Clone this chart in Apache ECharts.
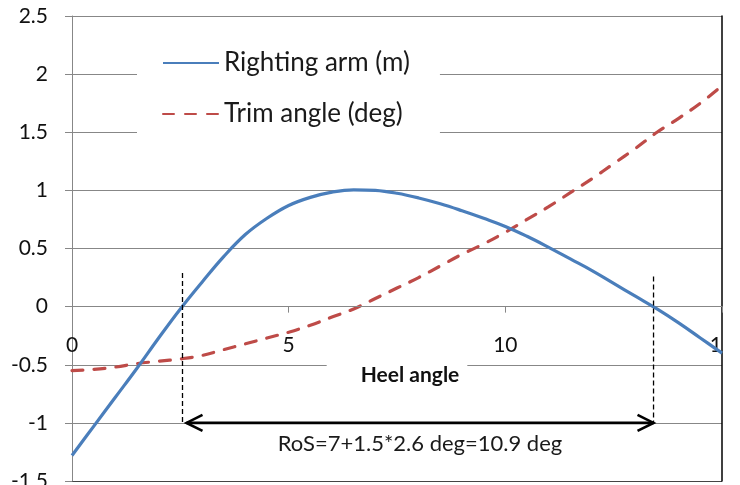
<!DOCTYPE html>
<html>
<head>
<meta charset="utf-8">
<title>Righting arm and trim angle</title>
<script src="https://cdn.jsdelivr.net/npm/echarts@6/dist/echarts.min.js"></script>
<style>
  html, body { margin: 0; padding: 0; background: #fff; }
  #main { width: 740px; height: 485px; }
</style>
</head>
<body>
<div id="main"></div>
<script>
// heel angle (deg) samples
var heel = [0, 0.5, 1, 1.5, 2, 2.5, 3, 3.5, 4, 4.5, 5, 5.5, 6, 6.5, 7, 7.5,
            8, 8.5, 9, 9.5, 10, 10.5, 11, 11.5, 12, 12.5, 13, 13.5, 14, 14.5, 15];
// righting arm (m)
var rightingArm = [-1.28, -1.03, -0.78, -0.53, -0.27, -0.02, 0.21, 0.43, 0.62, 0.76, 0.87,
                   0.94, 0.985, 1.005, 1.00, 0.975, 0.935, 0.885, 0.825, 0.76, 0.69, 0.605,
                   0.51, 0.41, 0.31, 0.20, 0.09, -0.02, -0.14, -0.27, -0.40];
// trim angle (deg)
var trimAngle = [-0.55, -0.54, -0.52, -0.49, -0.47, -0.45, -0.42, -0.37, -0.32, -0.27, -0.22,
                 -0.16, -0.09, -0.02, 0.07, 0.16, 0.25, 0.35, 0.45, 0.54, 0.64, 0.75,
                 0.86, 0.98, 1.10, 1.23, 1.36, 1.50, 1.62, 1.75, 1.90];

// range of stability annotation: [start heel, dash top, end heel, dash top, arrow level]
var rosMarks = [[2.55, 0.29, 13.42, 0.26, -1]];
var rosText = 'RoS=7+1.5*2.6 deg=10.9 deg';

var seriesNames = ['Righting arm (m)', 'Trim angle (deg)'];
var FONT = 'Lato';

var Y_MIN = -1.5, Y_MAX = 2.5;
var GRID = { left: 72, right: 18, top: 16, bottom: 4 };
var plotH = 485 - GRID.top - GRID.bottom;
// lift the x axis from the bottom edge up to y = 0
var xAxisOffset = -plotH * (0 - Y_MIN) / (Y_MAX - Y_MIN);

function pairs(xs, ys) {
  return xs.map(function (x, i) { return [x, ys[i]]; });
}

// gridlines: the bottom one doubles as the plot frame
var gridColors = ['#444', '#878787', '#878787', '#878787', '#878787',
                  '#878787', '#878787', '#878787', '#878787'];

var myChart = echarts.init(document.getElementById('main'));

var option = {
  animation: false,
  backgroundColor: '#fff',
  textStyle: { fontFamily: FONT },
  grid: { left: GRID.left, right: GRID.right, top: GRID.top, bottom: GRID.bottom, outerBoundsMode: 'none', containLabel: false },
  legend: {
    data: seriesNames,
    orient: 'vertical',
    left: 137,
    top: 30,
    padding: [20, 30, 20, 25],
    backgroundColor: '#fff',
    itemWidth: 56,
    itemHeight: 14,
    itemGap: 25,
    itemStyle: { opacity: 0 },
    textStyle: { fontFamily: FONT, fontSize: 26, color: '#1a1a1a', lineHeight: 24 }
  },
  xAxis: {
    type: 'value',
    min: 0,
    max: 15,
    interval: 5,
    z: 3,
    offset: xAxisOffset,
    name: 'Heel angle',
    nameLocation: 'middle',
    nameGap: 56,
    nameTextStyle: {
      fontFamily: FONT, fontSize: 21, fontWeight: 'bold', color: '#111',
      backgroundColor: '#fff', padding: [2, 8, 2, 34]
    },
    axisLine: { onZero: false, lineStyle: { color: '#878787', width: 1 } },
    axisTick: { show: true, length: 6, lineStyle: { color: '#878787' } },
    axisLabel: { margin: 28, fontSize: 21, color: '#111', fontFamily: FONT, showMinLabel: true, showMaxLabel: true },
    splitLine: { show: false }
  },
  yAxis: [{
    type: 'value',
    min: Y_MIN,
    max: Y_MAX,
    interval: 0.5,
    axisLine: { show: true, onZero: false, lineStyle: { color: '#878787' } },
    axisTick: { show: true, length: 7, lineStyle: { color: '#878787' } },
    axisLabel: { margin: 24, fontSize: 21, color: '#111', fontFamily: FONT },
    splitLine: { show: true, lineStyle: { color: gridColors, width: 1 } }
  }, {
    type: 'value',
    min: Y_MIN,
    max: Y_MAX,
    position: 'right',
    axisLine: { show: true, onZero: false, lineStyle: { color: '#000', width: 1.5 } },
    axisTick: { show: false },
    axisLabel: { show: false },
    splitLine: { show: false }
  }],
  series: [{
    name: seriesNames[1],
    type: 'line',
    data: pairs(heel, trimAngle),
    smooth: 0.4,
    symbol: 'none',
    lineStyle: { color: '#be4b48', width: 3.2, type: [11, 11], cap: 'round' },
    itemStyle: { color: '#be4b48' },
    z: 2
  }, {
    name: seriesNames[0],
    type: 'line',
    data: pairs(heel, rightingArm),
    smooth: 0.4,
    symbol: 'none',
    lineStyle: { color: '#4a7ebb', width: 3.2 },
    itemStyle: { color: '#4a7ebb' },
    z: 3
  }, {
    name: 'RoS',
    type: 'custom',
    data: rosMarks,
    z: 4,
    renderItem: function (params, api) {
      var lvl = api.value(4);
      var a = api.coord([api.value(0), lvl]);
      var aTop = api.coord([api.value(0), api.value(1)]);
      var b = api.coord([api.value(2), lvl]);
      var bTop = api.coord([api.value(2), api.value(3)]);
      var dash = { stroke: '#000', lineWidth: 1.3, lineDash: [5, 3] };
      var solid = { stroke: '#000', lineWidth: 2.6, fill: null };
      var ax = a[0] + 4, bx = b[0];
      var y = a[1];
      return {
        type: 'group',
        children: [
          { type: 'line', shape: { x1: a[0], y1: aTop[1], x2: a[0], y2: y }, style: dash },
          { type: 'line', shape: { x1: b[0], y1: bTop[1], x2: b[0], y2: y }, style: dash },
          { type: 'line', shape: { x1: ax, y1: y, x2: bx, y2: y }, style: solid },
          { type: 'polyline', shape: { points: [[ax + 16, y - 8], [ax, y], [ax + 16, y + 8]] }, style: solid },
          { type: 'polyline', shape: { points: [[bx - 16, y - 8], [bx, y], [bx - 16, y + 8]] }, style: solid },
          {
            type: 'text',
            x: (ax + bx) / 2,
            y: y + 21,
            style: {
              text: rosText, fill: '#1a1a1a',
              font: '22px ' + FONT,
              align: 'center', verticalAlign: 'middle'
            }
          }
        ]
      };
    }
  }],
  graphic: [{
    type: 'rect',
    right: 0,
    top: 0,
    z: 100,
    shape: { width: 17, height: 485 },
    style: { fill: '#fff' }
  }]
};

myChart.setOption(option);
</script>
</body>
</html>
